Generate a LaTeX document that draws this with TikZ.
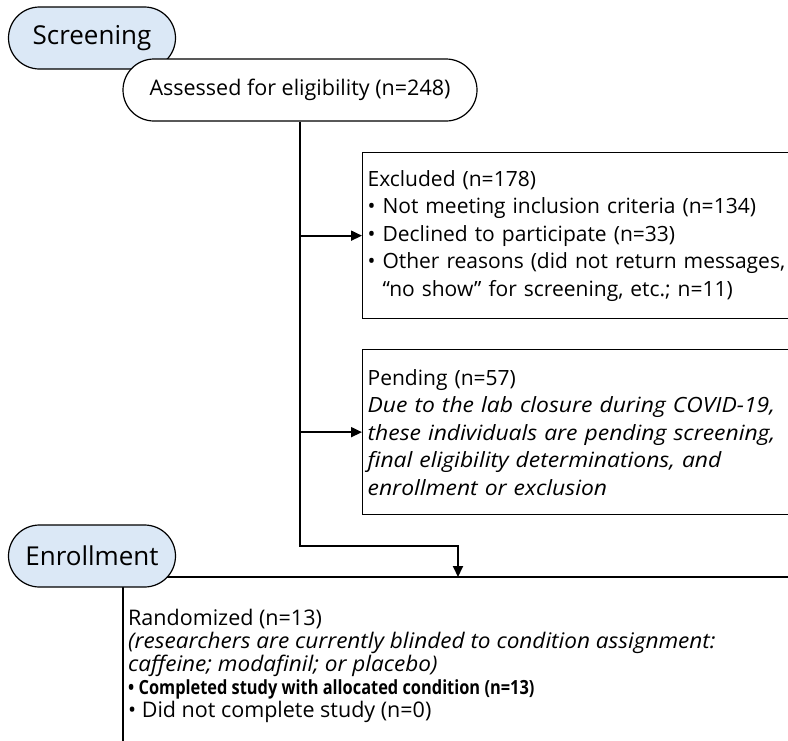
\documentclass[tikz,border=0pt]{standalone}
\usepackage{fontspec}
\setmainfont{Open Sans}
\usetikzlibrary{positioning,arrows.meta,backgrounds}
\definecolor{phasefill}{RGB}{219,232,246}
\newcommand\noteit[1][1.09]{\itshape\addfontfeatures{FakeStretch=#1}}

\begin{document}
\begin{tikzpicture}[x=1pt,y=1pt,
  phase/.style={draw,fill=phasefill,line width=1.2pt,rounded corners=31pt,
    minimum width=167pt,minimum height=62pt,inner sep=0pt,
    font=\fontsize{26}{30}\selectfont},
  pill/.style={draw,fill=white,line width=1.2pt,rounded corners=31pt,
    minimum width=354pt,minimum height=62pt,inner sep=0pt,
    font=\fontsize{21.5}{26}\selectfont},
  infobox/.style={draw,line width=1.3pt,anchor=north west,align=left,
    text width=430pt,inner sep=5pt,font=\fontsize{21}{27.5}\selectfont},
  conn/.style={line width=1.8pt},
  arr/.style={conn,-{Triangle[length=11pt,width=10pt]}}]
\useasboundingbox (0,0) rectangle (788,-740);
\clip (0,0) rectangle (788,-740);

% Screening
\node[phase] (screen) at (92,-38) {Screening};
\node[pill] (assess) at (300,-90) {Assessed for eligibility (n=248)};

\node[infobox,minimum height=166pt] (excl) at (362,-152)
  {Excluded (n=178)\\
   • Not meeting inclusion criteria (n=134)\\
   • Declined to participate (n=33)\\
   • Other reasons (did not return messages,\\
   \hphantom{• }“no show” for screening, etc.; n=11)};
\node[infobox,minimum height=165pt] (pend) at (362,-349)
  {Pending (n=57)\\
   \noteit Due to the lab closure during COVID-19,\\
   \noteit these individuals are pending screening,\\
   \noteit final eligibility determinations, and\\
   \noteit enrollment or exclusion};

% Enrollment
\node[phase] (enrol) at (92,-556) {Enrollment};
\coordinate (enrolJoin) at (458,-577);
\coordinate (lineR) at (790,-577);
\coordinate (randL) at (123,-745);

\node[anchor=north west,align=left,inner sep=0pt,
  font=\fontsize{21.5}{23}\selectfont] (rand) at (128,-609)
  {Randomized (n=13)\\
   \noteit[1.05](researchers are currently blinded to condition assignment:\\
   \noteit[1.05]caffeine; modafinil; or placebo)\\
   \fontsize{19.5}{23}\selectfont\bfseries\addfontfeatures{FakeStretch=0.84}%
   • Completed study with allocated condition (n=13)\\
   • Did not complete study (n=0)};

% Connectors
\draw[arr] (assess.south |- excl.west) -- (excl.west);
\draw[arr] (assess.south |- pend.west) -- (pend.west);
\draw[arr] (assess.south) -- ++(0,-424) -| (enrolJoin);
\begin{scope}[on background layer]
\draw[conn] (enrol.center |- lineR) -- (lineR);
\draw[conn] (randL |- enrol.center) -- (randL);
\end{scope}
\end{tikzpicture}
\end{document}
